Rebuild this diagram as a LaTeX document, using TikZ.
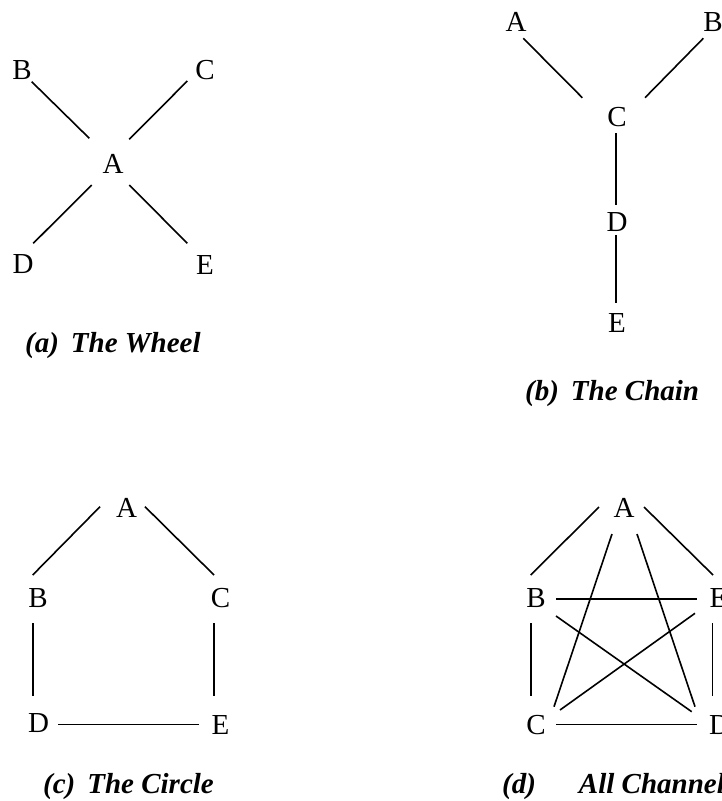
\documentclass[tikz,border=0pt]{standalone}
\usepackage{fontspec}
\setmainfont{Liberation Serif}
\usetikzlibrary{calc}
\begin{document}
\begin{tikzpicture}[x=1pt,y=-1pt,
  lbl/.style={inner sep=0pt,font=\fontsize{29}{34}\selectfont},
  captxt/.style={inner sep=0pt,anchor=base west,font=\fontsize{29}{34}\selectfont\bfseries\itshape},
  conn/.style={line width=1.6pt}]
\useasboundingbox (0,0) rectangle (722,801);
% (a) The Wheel
\node[lbl] (aA) at (113,163.5) {A};
\node[lbl] (aB) at (22,70) {B};
\node[lbl] (aC) at (205,70) {C};
\node[lbl] (aD) at (23,264) {D};
\node[lbl] (aE) at (205,265) {E};
\draw[conn] ($(aB)+(9.7,11.7)$) -- ($(aA)+(-23.7,-25.2)$);
\draw[conn] ($(aC)+(-17.7,11)$) -- ($(aA)+(16.3,-24.2)$);
\draw[conn] ($(aD)+(10.3,-20.7)$) -- ($(aA)+(-21.3,21.5)$);
\draw[conn] ($(aE)+(-17.7,-21.7)$) -- ($(aA)+(16.3,21.5)$);
\node[captxt] (capa) at (25,352) {(a)\hspace{12pt}The Wheel};
% (b) The Chain
\node[lbl] (bA) at (516,22) {A};
\node[lbl] (bB) at (713,22) {B};
\node[lbl] (bC) at (617,117.5) {C};
\node[lbl] (bD) at (617,222) {D};
\node[lbl] (bE) at (617,322.5) {E};
\draw[conn] ($(bA)+(7.3,16.3)$) -- ($(bC)+(-34.7,-19.8)$);
\draw[conn] ($(bB)+(-9.7,16.3)$) -- ($(bC)+(28,-19.8)$);
\draw[conn] ($(bC)+(-1,15.5)$) -- ($(bD)+(-1,-17)$);
\draw[conn] ($(bD)+(-1,13)$) -- ($(bE)+(-1,-19.5)$);
\node[captxt] (capb) at (525,400) {(b)\hspace{12pt}The Chain};
% (c) The Circle
\node[lbl] (cA) at (126.5,507.5) {A};
\node[lbl] (cB) at (38,598) {B};
\node[lbl] (cC) at (220.5,598) {C};
\node[lbl] (cD) at (38.5,723) {D};
\node[lbl] (cE) at (220.5,724.5) {E};
\draw[conn] ($(cA)+(-26.5,-0.8)$) -- ($(cB)+(-5.3,-23)$);
\draw[conn] ($(cA)+(18.5,-0.8)$) -- ($(cC)+(-6.5,-23)$);
\draw[conn] ($(cB)+(-5.3,25)$) -- ($(cD)+(-5.8,-27)$);
\draw[conn] ($(cC)+(-6.5,25)$) -- ($(cE)+(-6.5,-28.5)$);
\draw[conn] ($(cD)+(19.8,1.3)$) -- ($(cE)+(-21.5,-0.2)$);
\node[captxt] (capc) at (43,793) {(c)\hspace{12pt}The Circle};
% (d) All Channel
\node[lbl] (dA) at (624,508) {A};
\node[lbl] (dB) at (536,598) {B};
\node[lbl] (dE) at (718.5,598) {E};
\node[lbl] (dC) at (536,725) {C};
\node[lbl] (dD) at (719.5,725) {D};
\draw[conn] ($(dA)+(-25,-1)$) -- ($(dB)+(-5.3,-23)$);
\draw[conn] ($(dA)+(20,-1)$) -- ($(dE)+(-5.5,-23)$);
\draw[conn] ($(dB)+(20,1)$) -- ($(dE)+(-21.5,1)$);
\draw[conn] ($(dC)+(20,-0.7)$) -- ($(dD)+(-22.5,-0.7)$);
\draw[conn] ($(dB)+(-5.3,25)$) -- ($(dC)+(-5.3,-29)$);
\draw[conn] ($(dE)+(-6.2,25)$) -- ($(dD)+(-7.2,-29)$);
\draw[conn] ($(dB)+(20,18)$) -- ($(dD)+(-27.8,-13.3)$);
\draw[conn] ($(dE)+(-23.5,15.3)$) -- ($(dC)+(24,-15)$);
\draw[conn] ($(dA)+(-12,26)$) -- ($(dC)+(18,-18.3)$);
\draw[conn] ($(dA)+(13,26)$) -- ($(dD)+(-24.5,-18.3)$);
\node[captxt] (capd) at (502,793) {(d)\hspace{43pt}All Channel};
\end{tikzpicture}
\end{document}
